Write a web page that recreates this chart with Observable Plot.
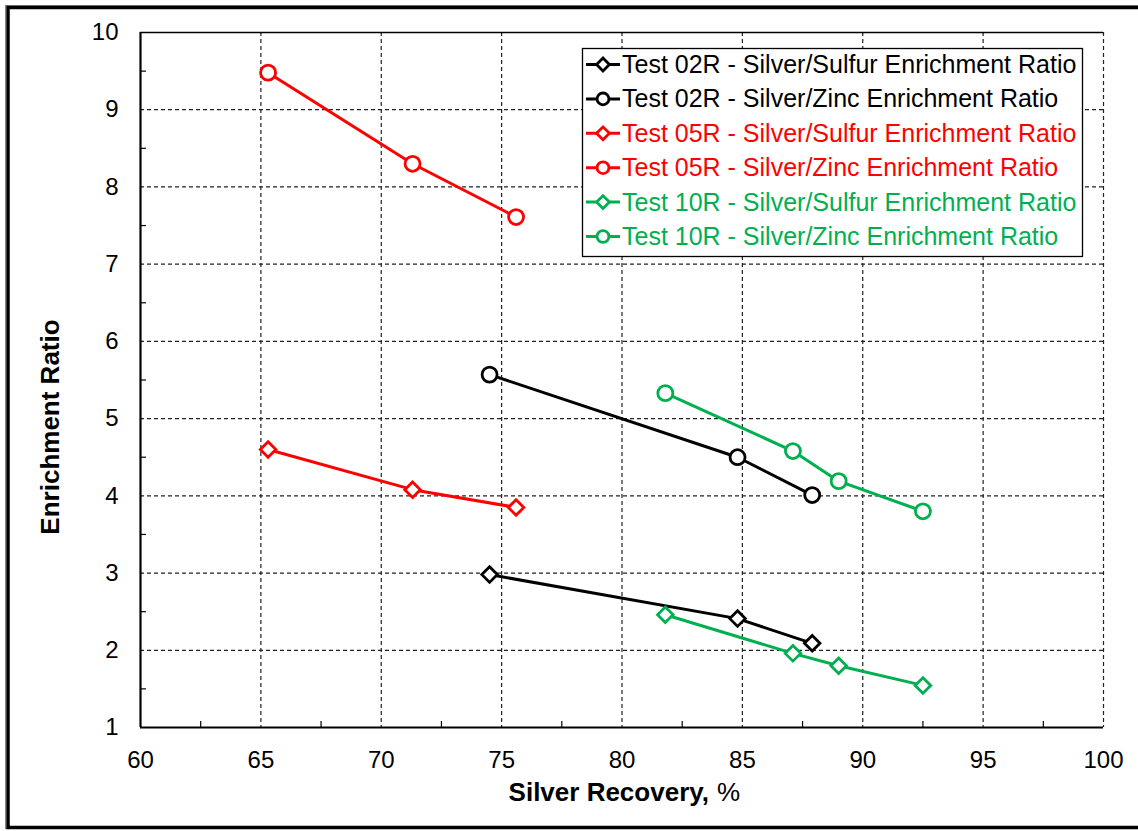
<!DOCTYPE html>
<html>
<head>
<meta charset="utf-8">
<script src="https://cdn.jsdelivr.net/npm/d3@7"></script>
<script src="https://cdn.jsdelivr.net/npm/@observablehq/plot@0.6"></script>
<style>
  html, body { margin: 0; padding: 0; background: #fff; overflow: hidden; }
  #chart svg { display: block; }
</style>
</head>
<body>
<div id="chart"></div>
<script>
// ---- data ----
const recovery02 = [74.5, 84.8, 87.9];
const sulfur02   = [2.98, 2.41, 2.09];
const zinc02     = [5.57, 4.50, 4.01];

const recovery05 = [65.3, 71.3, 75.6];
const sulfur05   = [4.60, 4.08, 3.85];
const zinc05     = [9.48, 8.30, 7.61];

const recovery10 = [81.8, 87.1, 89.0, 92.5];
const sulfur10   = [2.46, 1.96, 1.80, 1.545];
const zinc10     = [5.33, 4.58, 4.19, 3.80];

const legendLabels = [
  "Test 02R - Silver/Sulfur Enrichment Ratio",
  "Test 02R - Silver/Zinc Enrichment Ratio",
  "Test 05R - Silver/Sulfur Enrichment Ratio",
  "Test 05R - Silver/Zinc Enrichment Ratio",
  "Test 10R - Silver/Sulfur Enrichment Ratio",
  "Test 10R - Silver/Zinc Enrichment Ratio"
];
const seriesColors  = ["#000000", "#000000", "#FF0000", "#FF0000", "#00B050", "#00B050"];
const seriesSymbols = ["diamond2", "circle", "diamond2", "circle", "diamond2", "circle"];
const seriesX = [recovery02, recovery02, recovery05, recovery05, recovery10, recovery10];
const seriesY = [sulfur02, zinc02, sulfur05, zinc05, sulfur10, zinc10];

const xTicks = [60, 65, 70, 75, 80, 85, 90, 95, 100];
const xGrid  = [65, 70, 75, 80, 85, 90, 95, 100];
const xMinor = [62.5, 67.5, 72.5, 77.5, 82.5, 87.5, 92.5, 97.5];
const yTicks = [1, 2, 3, 4, 5, 6, 7, 8, 9, 10];
const yGrid  = [2, 3, 4, 5, 6, 7, 8, 9];
const yMinor = [1.5, 2.5, 3.5, 4.5, 5.5, 6.5, 7.5, 8.5, 9.5];

const xTitleBold = "Silver Recovery,";
const xTitleNormal = "%";
const yTitle = "Enrichment Ratio";

// ---- build ----
const series = legendLabels.map((label, i) => ({
  label, color: seriesColors[i], symbol: seriesSymbols[i],
  rows: seriesX[i].map((x, j) => ({x, y: seriesY[i][j]}))
}));

const font = "'Liberation Sans', Arial, sans-serif";
const gridStyle = {stroke: "#222", strokeOpacity: 1, strokeWidth: 1.2, strokeDasharray: "4,3"};

const dataMarks = [];
for (const s of series) {
  dataMarks.push(Plot.line(s.rows, {x: "x", y: "y", stroke: s.color, strokeWidth: 3}));
}
for (const s of series) {
  dataMarks.push(Plot.dot(s.rows, {
    x: "x", y: "y", symbol: s.symbol, r: s.symbol === "circle" ? 7.5 : 7,
    stroke: s.color, strokeWidth: 2.8, fill: "white"
  }));
}

const chart = Plot.plot({
  width: 1138,
  height: 831,
  marginLeft: 140,
  marginRight: 35,
  marginTop: 32,
  marginBottom: 104,
  style: {fontFamily: font, fontSize: "24px", color: "#000", background: "#fff"},
  x: {domain: [60, 100]},
  y: {domain: [1, 10]},
  marks: [
    Plot.gridX(xGrid, gridStyle),
    Plot.gridY(yGrid, gridStyle),
    Plot.tickX(xMinor, {x: d => d, insetTop: 689, stroke: "#000", strokeWidth: 1.2}),
    Plot.tickY(yMinor, {y: d => d, insetRight: 957, stroke: "#000", strokeWidth: 1.2}),
    Plot.ruleY([10], {stroke: "#000", strokeWidth: 1.5}),
    Plot.ruleX([60], {stroke: "#000", strokeWidth: 2.2}),
    Plot.ruleY([1], {stroke: "#000", strokeWidth: 2.2}),
    Plot.axisX(xTicks, {tickSize: 0, tickPadding: 23, label: null, fontSize: 24, fill: "#000", tickFormat: d3.format("d")}),
    Plot.axisY(yTicks, {tickSize: 0, tickPadding: 22, label: null, fontSize: 24, fill: "#000", tickFormat: d3.format("d")}),
    Plot.text([xTitleBold], {frameAnchor: "bottom", text: d => d, textAnchor: "end", dx: 87, dy: 73,
      fontWeight: "bold", fontSize: 26, fill: "#000"}),
    Plot.text([xTitleNormal], {frameAnchor: "bottom", text: d => d, textAnchor: "start", dx: 95, dy: 73,
      fontSize: 26, fill: "#000"}),
    ...dataMarks
  ]
});

document.getElementById("chart").appendChild(chart);
const svg = d3.select(chart);

// ---- y axis title ----
svg.append("text")
  .attr("transform", "translate(50,427) rotate(-90)")
  .attr("text-anchor", "middle")
  .attr("dy", "0.35em")
  .attr("font-family", font)
  .attr("font-size", 26)
  .attr("font-weight", "bold")
  .attr("fill", "#000")
  .text(yTitle);

// ---- outer chart border ----
svg.append("rect").attr("x", 5.5).attr("y", 5.5).attr("width", 1400).attr("height", 823)
  .attr("fill", "none").attr("stroke", "#888").attr("stroke-width", 1);
svg.append("rect").attr("x", 8).attr("y", 7.5).attr("width", 1400).attr("height", 820)
  .attr("fill", "none").attr("stroke", "#000").attr("stroke-width", 3.5);

// ---- legend ----
const lg = svg.append("g").attr("font-family", font).attr("font-size", 25).attr("text-anchor", "start");
lg.append("rect").attr("x", 582.5).attr("y", 48.5).attr("width", 500).attr("height", 208)
  .attr("fill", "#fff").attr("stroke", "#000").attr("stroke-width", 1.3);
series.forEach((s, i) => {
  const base = 73 + i * 34.4;
  const cy = base - 8.5;
  lg.append("line").attr("x1", 586).attr("x2", 620).attr("y1", cy).attr("y2", cy)
    .attr("stroke", s.color).attr("stroke-width", 3);
  const sym = s.symbol === "circle" ? d3.symbolCircle : d3.symbolDiamond2;
  const size = s.symbol === "circle" ? 110 : 105;
  lg.append("path").attr("d", d3.symbol(sym, size)()).attr("transform", `translate(603,${cy})`)
    .attr("fill", "#fff").attr("stroke", s.color).attr("stroke-width", 2.8);
  lg.append("text").attr("x", 622).attr("y", base).attr("fill", s.color).text(s.label);
});
</script>
</body>
</html>
